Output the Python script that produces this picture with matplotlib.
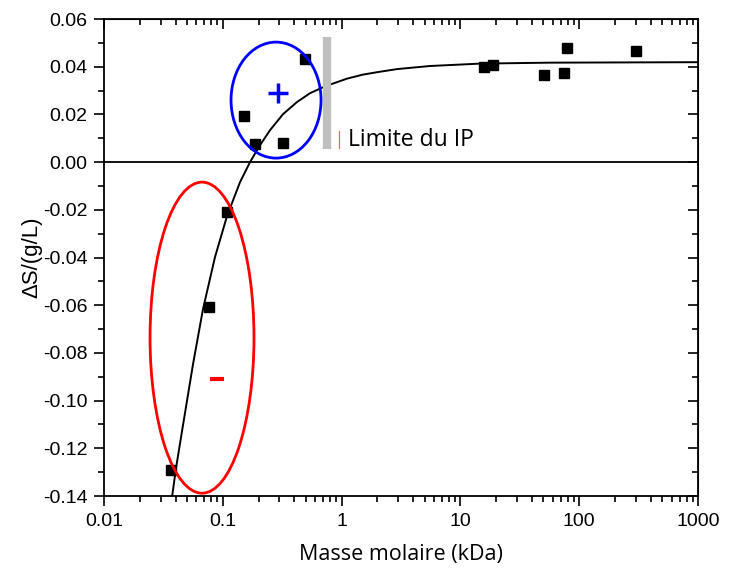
import numpy as np
import matplotlib
matplotlib.use('Agg')
import matplotlib.pyplot as plt
from matplotlib.patches import Ellipse
from matplotlib.ticker import FixedLocator, LogLocator, NullFormatter, FuncFormatter

plt.rcParams['axes.unicode_minus'] = False

# measured points (molar mass in kDa, delta S in g/L)
masse = [0.0367, 0.0766, 0.108, 0.151, 0.187, 0.321, 0.492,
         15.9, 18.8, 50.6, 74.5, 78.9, 300]
delta_s = [-0.129, -0.0608, -0.021, 0.0193, 0.0075, 0.008, 0.0432,
           0.0398, 0.0407, 0.0365, 0.0374, 0.0477, 0.0467]

# fitted curve
fit_x = [0.03736, 0.04037, 0.04535, 0.05614, 0.06813, 0.08596, 0.1085, 0.1396,
         0.1694, 0.2056, 0.2497, 0.3211, 0.4214, 0.542, 0.6839, 0.7988, 1.11,
         1.514, 2.105, 2.927, 5.548, 14.6, 56.8, 1000]
fit_y = [-0.1405, -0.1283, -0.1128, -0.0847, -0.0616, -0.0398, -0.0226, -0.0084,
         0.0, 0.0071, 0.0134, 0.0201, 0.0252, 0.0289, 0.0312, 0.0325, 0.0350,
         0.0367, 0.0379, 0.0390, 0.0403, 0.0413, 0.0417, 0.0419]

limite_x = 0.75
limite_y = [0.0055, 0.0524]

y_ticks = [0.06, 0.04, 0.02, 0.0, -0.02, -0.04, -0.06, -0.08, -0.10, -0.12, -0.14]
x_ticks = [0.01, 0.1, 1, 10, 100, 1000]
x_labels = ['0.01', '0.1', '1', '10', '100', '1000']

fig = plt.figure(figsize=(7.34, 5.71), dpi=100)
ax = fig.add_axes([0.1417, 0.1313, 0.8093, 0.8354])

ax.axhline(0, color='black', lw=1.3, zorder=1)
ax.plot(fit_x, fit_y, color='black', lw=1.4, zorder=2)
ax.plot(masse, delta_s, 's', color='black', ms=7.5, zorder=4)

# limit of the IP
ax.plot([limite_x, limite_x], limite_y, color='#bfbfbf', lw=6, solid_capstyle='butt', zorder=3)
ax.plot([0.395, 0.395], [0.73, 0.765], transform=ax.transAxes, color='#b8874a', lw=0.9)
ax.text(0.411, 0.747, 'Limite du IP', transform=ax.transAxes, fontsize=16.5,
        family='Open Sans', va='center', ha='left')

# ellipses
ax.add_patch(Ellipse((0.2896, 0.830), 0.1515, 0.2432, transform=ax.transAxes,
                     fill=False, edgecolor='#0000ff', lw=2, zorder=5))
ax.add_patch(Ellipse((0.165, 0.332), 0.175, 0.652, transform=ax.transAxes,
                     fill=False, edgecolor='#ff0000', lw=2, zorder=5))
ax.plot([0.293], [0.845], '+', transform=ax.transAxes, color='#0000ff', ms=15, mew=2.5)
ax.plot([0.190], [0.246], '_', transform=ax.transAxes, color='#ff0000', ms=10, mew=3)

ax.set_xscale('log')
ax.set_xlim(0.01, 1000)
ax.set_ylim(-0.14, 0.06)

ax.xaxis.set_major_locator(FixedLocator(x_ticks))
ax.set_xticklabels(x_labels)
ax.xaxis.set_minor_locator(LogLocator(base=10, subs=np.arange(2, 10)))
ax.xaxis.set_minor_formatter(NullFormatter())
ax.set_yticks(y_ticks)
ax.yaxis.set_major_formatter(FuncFormatter(lambda v, p: f'{v:.2f}'))
ax.set_yticks(np.arange(-0.13, 0.06, 0.02), minor=True)

for s in ax.spines.values():
    s.set_linewidth(1.3)

ax.tick_params(which='both', direction='out', top=False, right=False, width=1.2)
ax.tick_params(which='major', length=7, labelsize=14, pad=5)
ax.tick_params(which='minor', length=4)
for lab in ax.get_xticklabels() + ax.get_yticklabels():
    lab.set_family('Liberation Sans')

# mirrored inward ticks on top and right
ax_top = ax.secondary_xaxis('top')
ax_top.xaxis.set_major_locator(FixedLocator(x_ticks))
ax_top.xaxis.set_minor_locator(LogLocator(base=10, subs=np.arange(2, 10)))
ax_top.tick_params(which='both', direction='in', labeltop=False, width=1.2)
ax_top.tick_params(which='major', length=7)
ax_top.tick_params(which='minor', length=4)
ax_top.xaxis.set_major_formatter(NullFormatter())
ax_top.xaxis.set_minor_formatter(NullFormatter())

ax_r = ax.secondary_yaxis('right')
ax_r.set_yticks(y_ticks)
ax_r.set_yticks(np.arange(-0.13, 0.06, 0.02), minor=True)
ax_r.tick_params(which='both', direction='in', labelright=False, width=1.2)
ax_r.tick_params(which='major', length=7)
ax_r.tick_params(which='minor', length=4)

ax.set_xlabel('Masse molaire (kDa)', fontsize=15.5, family='Open Sans', labelpad=10)
ax.set_ylabel('ΔS/(g/L)', fontsize=16, family='Liberation Sans', labelpad=0)

fig.savefig('out.png', dpi=100)
